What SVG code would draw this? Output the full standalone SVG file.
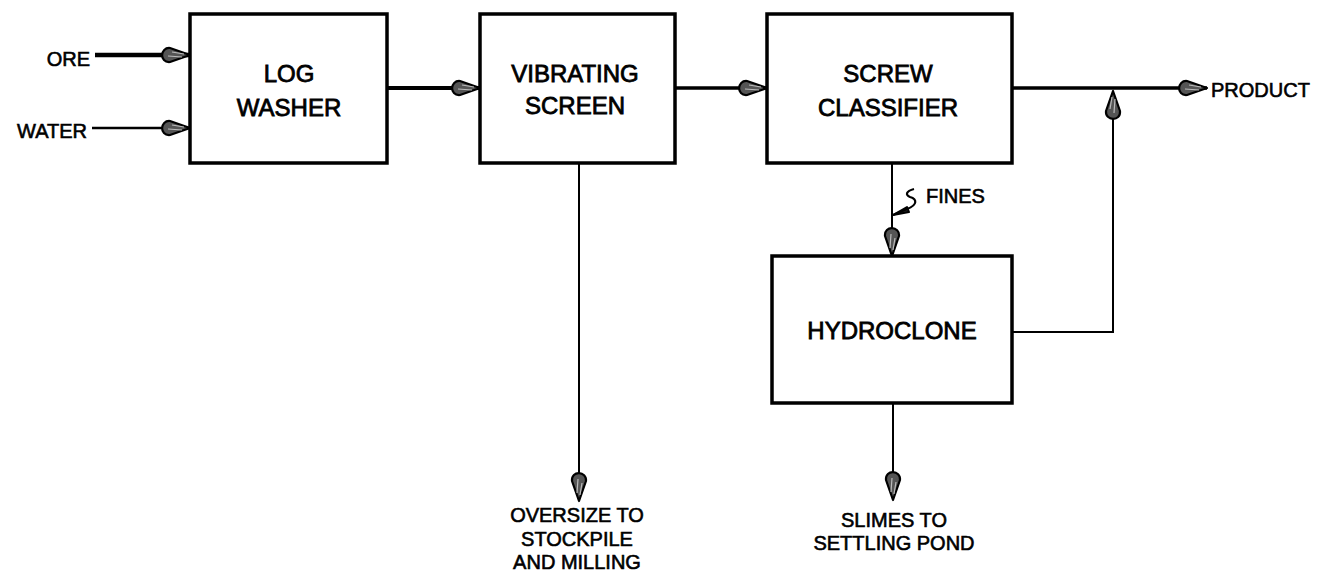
<svg xmlns="http://www.w3.org/2000/svg" width="1317" height="574" viewBox="0 0 1317 574">
<style>
.box{fill:#fff;stroke:#000;stroke-width:3.5}
.lbl{font-family:"Liberation Sans",Arial,sans-serif;font-size:24px;fill:#000;stroke:#000;stroke-width:0.8;text-anchor:middle}
.sm{font-family:"Liberation Sans",Arial,sans-serif;font-size:20px;fill:#000;stroke:#000;stroke-width:0.6}
.mid{text-anchor:middle}
.end{text-anchor:end}
.ln{fill:none;stroke:#000;stroke-linecap:butt;stroke-linejoin:miter}
</style>
<defs>
<marker id="arr" viewBox="-34 -10 36 20" refX="0" refY="0" markerWidth="36" markerHeight="20" markerUnits="userSpaceOnUse" orient="auto" overflow="visible">
<path d="M0,0 L-20,-7 C-30,-8 -31,8 -20,7 Z" fill="#555" stroke="#000" stroke-width="2.2" stroke-linejoin="round"/>
<path d="M-6,-1 L-18,-3 M-8,2 L-22,1" stroke="#bbb" stroke-width="1.2" fill="none"/>
</marker>
</defs>
<rect width="1317" height="574" fill="#fff"/>
<g id="connectors">
<path class="ln" d="M95,55 H190" stroke-width="4.5" marker-end="url(#arr)"/>
<path class="ln" d="M92,128 H190" stroke-width="2.5" marker-end="url(#arr)"/>
<path class="ln" d="M387,88 H480" stroke-width="4" marker-end="url(#arr)"/>
<path class="ln" d="M675,88 H767" stroke-width="3.5" marker-end="url(#arr)"/>
<path class="ln" d="M1012,88 H1207" stroke-width="3.5" marker-end="url(#arr)"/>
<path class="ln" d="M579,163 V501" stroke-width="2" marker-end="url(#arr)"/>
<path class="ln" d="M892,163 V256" stroke-width="2" marker-end="url(#arr)"/>
<path class="ln" d="M893,403 V500" stroke-width="2" marker-end="url(#arr)"/>
<path class="ln" d="M1012,332 H1113 V91" stroke-width="2" marker-end="url(#arr)"/>
</g>
<g id="ore"><text class="sm end" x="90" y="66">ORE</text></g>
<g id="water"><text class="sm end" x="87" y="138">WATER</text></g>
<g id="log-washer">
<rect class="box" x="190" y="14" width="197" height="149"/>
<text class="lbl" x="289" y="82">LOG</text>
<text class="lbl" x="289" y="116">WASHER</text>
</g>
<g id="vibrating-screen">
<rect class="box" x="480" y="14" width="195" height="149"/>
<text class="lbl" x="575" y="82">VIBRATING</text>
<text class="lbl" x="575" y="114">SCREEN</text>
</g>
<g id="screw-classifier">
<rect class="box" x="767" y="14" width="245" height="149"/>
<text class="lbl" x="888" y="82">SCREW</text>
<text class="lbl" x="888" y="116">CLASSIFIER</text>
</g>
<g id="hydroclone">
<rect class="box" x="772" y="256" width="240" height="147"/>
<text class="lbl" x="892" y="339">HYDROCLONE</text>
</g>
<g id="fines">
<path d="M893,215 L907,207 L909,212 Z" fill="#222" stroke="#000" stroke-width="2" stroke-linejoin="round"/>
<path class="ln" d="M893,215 L907,209 C918,205 917,199 910,197 C905,195 906,191 914,189" stroke-width="2.2"/>
<text class="sm" x="926" y="203">FINES</text>
</g>
<g id="product"><text class="sm" x="1211" y="97">PRODUCT</text></g>
<g id="oversize">
<text class="sm mid" x="577" y="522">OVERSIZE TO</text>
<text class="sm mid" x="577" y="546">STOCKPILE</text>
<text class="sm mid" x="577" y="569">AND MILLING</text>
</g>
<g id="slimes">
<text class="sm mid" x="894" y="527">SLIMES TO</text>
<text class="sm mid" x="894" y="550">SETTLING POND</text>
</g>
</svg>
